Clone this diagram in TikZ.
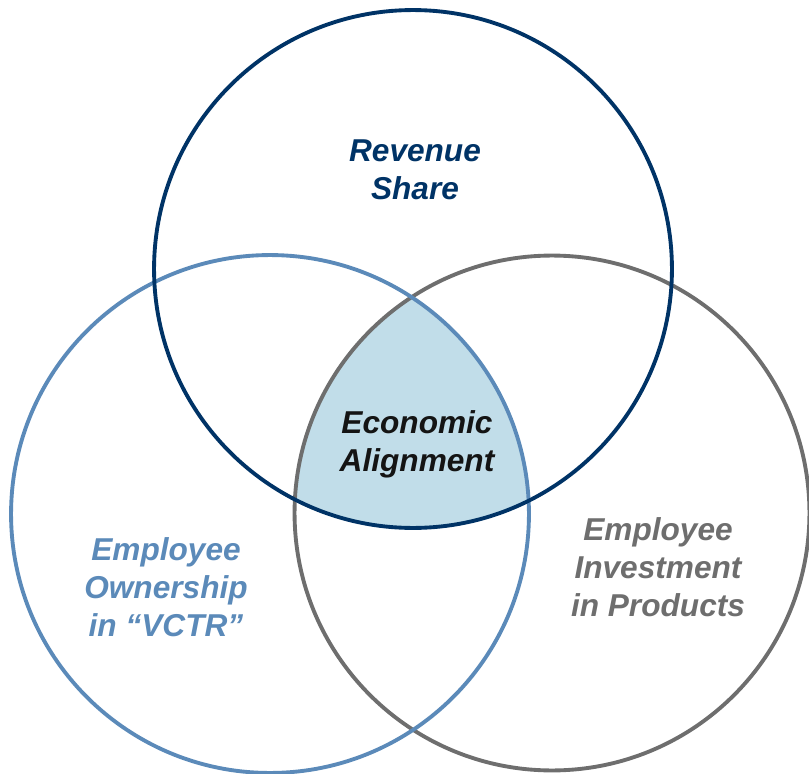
\documentclass[tikz,border=0pt]{standalone}
\usepackage{fontspec}
\setmainfont{Liberation Sans}
\definecolor{RevenueColor}{RGB}{0,51,102}
\definecolor{OwnershipColor}{RGB}{91,138,185}
\definecolor{InvestmentColor}{RGB}{110,110,110}
\definecolor{AlignmentColor}{RGB}{193,221,233}
\definecolor{TextColor}{RGB}{20,20,20}
\usetikzlibrary{positioning}
\tikzset{
  venn circle/.style={line width=2.2pt},
  venn label/.style={align=center, font=\fontsize{18}{21.5}\selectfont\bfseries\itshape}
}

\begin{document}
\begin{tikzpicture}[x=0.02cm, y=-0.02cm]
  \useasboundingbox (0,0) rectangle (809,774);

  % Circle centres
  \coordinate (revenue) at (413,269);
  \coordinate (ownership) at (270,514);
  \coordinate (investment) at (552,513);

  % Common area
  \begin{scope}
    \clip (revenue) circle (5.18cm);
    \clip (ownership) circle (5.18cm);
    \fill[AlignmentColor] (investment) circle (5.15cm);
  \end{scope}

  % Circles
  \draw[venn circle, InvestmentColor] (investment) circle (5.15cm);
  \draw[venn circle, OwnershipColor] (ownership) circle (5.18cm);
  \draw[venn circle, RevenueColor] (revenue) circle (5.18cm);

  % Labels
  \node[venn label, text=RevenueColor] (revenueText) at (415,170) {Revenue\\Share};
  \node[venn label, text=TextColor] (alignmentText) at (417,444) {Economic\\Alignment};
  \node[venn label, text=OwnershipColor] (ownershipText) at (166,587) {Employee\\Ownership\\in “VCTR”};
  \node[venn label, text=InvestmentColor] (investmentText) at (658,567) {Employee\\Investment\\in Products};
\end{tikzpicture}
\end{document}
